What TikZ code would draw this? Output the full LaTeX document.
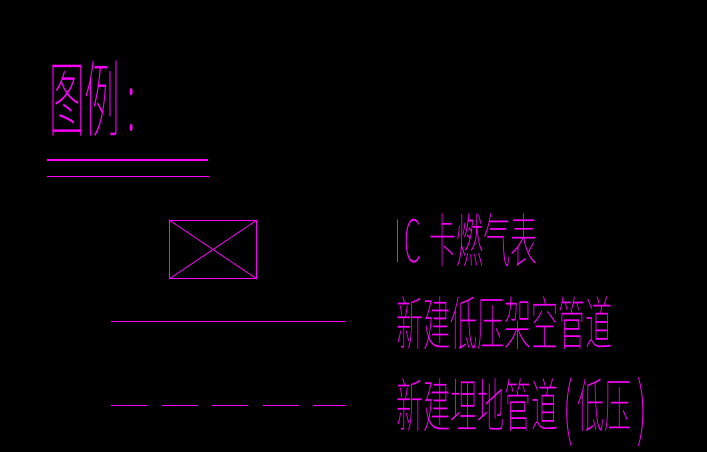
\documentclass[tikz,border=0pt]{standalone}
\usepackage{fontspec}
\newfontfamily\cjk{Noto Sans CJK SC Thin}
\usetikzlibrary{positioning}
\definecolor{cadpink}{RGB}{255,0,255}
\tikzstyle{legendtext}=[text=cadpink,anchor=west,inner sep=0pt,transform shape]
\tikzstyle{rule}=[draw=cadpink,line width=1.3pt]
\tikzstyle{thinrule}=[draw=cadpink,line width=.8pt]
\newcommand{\tallparen}[1]{\raisebox{-5pt}[0pt][0pt]{\fontsize{62}{62}\selectfont #1}}
\begin{document}
\begin{tikzpicture}[x=1pt,y=-1pt]
            \fill[black] (0,0) rectangle (707,452);
            \useasboundingbox (0,0) rectangle (707,452);

            % TITLE PART

            \node[legendtext,xscale=.47,yscale=1.1,font=\cjk\fontsize{76}{76}\selectfont] (title) at (49,99) {图例\hspace{14pt}:};
            \coordinate (r1a) at (47,160);
            \coordinate (r1b) at (208,160);
            \coordinate (r2a) at (47,176.5);
            \coordinate (r2b) at (209,176.5);
            \path[rule] (r1a) -- (r1b);
            \path[rule] (r2a) -- (r2b);

            % METER PART

            \node[rule,rectangle,minimum width=87pt,minimum height=58pt,inner sep=0pt] (meter) at (213,249.5) {};
            \path[thinrule] (meter.north west) -- (meter.south east);
            \path[thinrule] (meter.south west) -- (meter.north east);
            \node[legendtext,xscale=.52,yscale=1.13,font=\cjk\fontsize{52}{52}\selectfont] (t1) at (394,240.5) {I\hspace{7pt}C\hspace{16pt}卡燃气表};

            % OVERHEAD PART

            \coordinate (s1) at (111,321.5);
            \coordinate (s2) at (345,321.5);
            \path[thinrule] (s1) -- (s2);
            \node[legendtext,xscale=.52,yscale=1.13,font=\cjk\fontsize{52}{52}\selectfont] (t2) at (396,323) {新建低压架空管道};

            % BURIED PART

            \coordinate (d1) at (111,405.5);
            \coordinate (d2) at (345,405.5);
            \path[thinrule,dash pattern=on 36pt off 14.6pt] (d1) -- (d2);
            \node[legendtext,xscale=.52,yscale=1.13,font=\cjk\fontsize{52}{52}\selectfont,text height=40pt,text depth=10pt] (t3) at (396,411) {新建埋地管道\hspace{9pt}\tallparen{(}\hspace{9pt}低压\hspace{12pt}\tallparen{)}};

        \end{tikzpicture}
\end{document}
